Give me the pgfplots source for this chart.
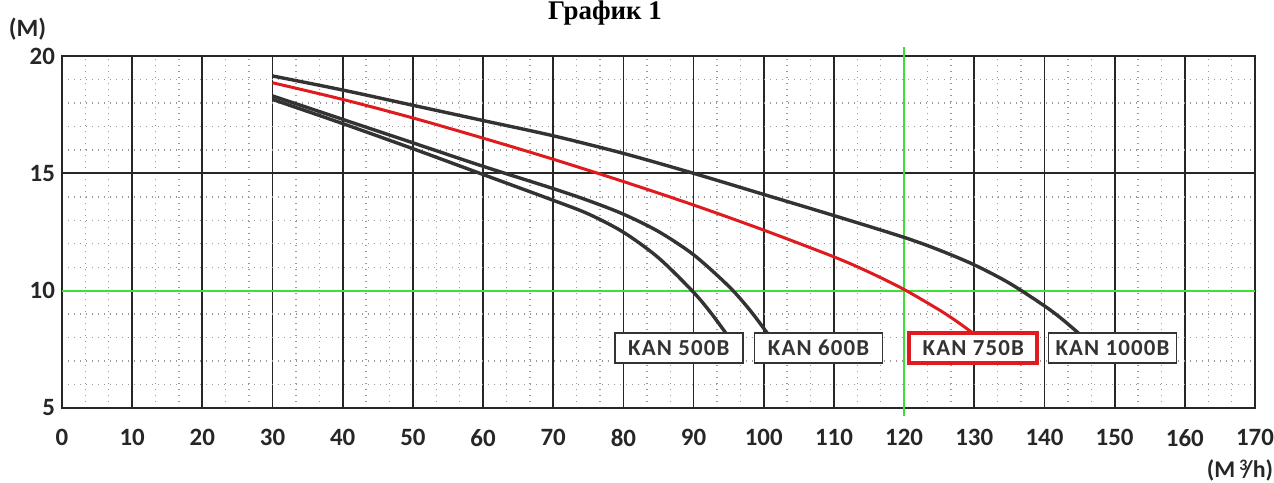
\documentclass[border=0pt]{standalone}
\usepackage{fontspec}
\setmainfont{Carlito}
\newfontfamily\boxfont[LetterSpace=5]{Carlito}
\newfontfamily\titlefont{Liberation Serif}
\usepackage{pgfplots}
\pgfplotsset{compat=1.18}

\definecolor{gridk}{HTML}{262626}
\definecolor{curvek}{HTML}{333333}
\definecolor{kanred}{HTML}{E01B1F}
\definecolor{kangreen}{HTML}{3FDF3A}

\begin{document}
\begin{tikzpicture}[x=1bp,y=1bp]
\begin{axis}[
    at={(0,0)}, anchor=south west,
    scale only axis,
    width=596.5bp, height=176bp,
    xmin=0, xmax=170, ymin=5, ymax=20,
    xtick={0,10,...,170},
    ytick={5,10,15,20},
    minor x tick num=2,
    minor y tick num=4,
    grid=both,
    major grid style={gridk, line width=0.9bp},
    minor grid style={gray!80, line width=0.7bp, dash pattern=on 0.7bp off 2.3bp},
    axis line style={gridk, line width=1.1bp},
    major tick length=0pt, minor tick length=0pt,
    tick label style={font=\bfseries\fontsize{12.5}{14}\selectfont, text=gridk},
    /pgf/number format/assume math mode=true,
    xticklabel style={yshift=-7bp},
    clip=false,
]
% green reference lines
\addplot[kangreen, line width=1bp] coordinates {(120,4.65) (120,20.4)};
\addplot[kangreen, line width=1bp] coordinates {(0,10) (170,10)};

% KAN 500B
\addplot[curvek, line width=1.7bp, smooth, tension=0.5] coordinates {
(30,18.15) (40,17.12) (50,16.05) (60,14.95) (70,13.85) (75,13.27) (80,12.49)
(85,11.40) (90,9.93) (92.5,9.04) (94.7,8.15)};
% KAN 600B
\addplot[curvek, line width=1.7bp, smooth, tension=0.5] coordinates {
(30,18.3) (40,17.3) (50,16.3) (60,15.3) (70,14.35) (75,13.84) (80,13.26)
(85,12.52) (90,11.53) (95,10.19) (98,9.18) (100.6,8.15)};
% KAN 750B
\addplot[kanred, line width=1.5bp, smooth, tension=0.5] coordinates {
(30,18.86) (40,18.15) (50,17.36) (60,16.5) (70,15.6) (80,14.65) (90,13.65)
(100,12.58) (110,11.44) (115,10.79) (120,10.05) (125,9.18) (127.5,8.69) (130,8.15)};
% KAN 1000B
\addplot[curvek, line width=1.7bp, smooth, tension=0.5] coordinates {
(30,19.15) (40,18.55) (50,17.9) (60,17.25) (70,16.6) (80,15.85) (90,15.0)
(100,14.1) (110,13.2) (120,12.27) (125,11.73) (130,11.1) (135,10.32)
(140,9.35) (142.5,8.79) (145,8.15)};

\tikzset{kanbox/.style={draw=curvek, line width=0.8bp, fill=white, text=curvek,
    minimum width=64bp, minimum height=15bp, inner sep=0pt,
    font=\boxfont\bfseries\fontsize{11.5}{12}\selectfont}}
\node[kanbox] at (axis cs:87.9,7.55) {KAN 500B};
\node[kanbox] at (axis cs:107.8,7.55) {KAN 600B};
\node[kanbox, draw=kanred, line width=2bp] at (axis cs:129.85,7.55) {KAN 750B};
\node[kanbox] at (axis cs:149.7,7.55) {KAN 1000B};
\end{axis}

\node[font=\bfseries\fontsize{12.5}{14}\selectfont, text=gridk] at (-17.25bp,189.5bp) {(M)};
\node[font=\bfseries\fontsize{12}{14}\selectfont, text=gridk] at (589bp,-31bp) {(M\,\raisebox{0.55ex}{\fontsize{8}{9}\selectfont 3}\kern-0.2em/h)};
\node[font=\titlefont\bfseries\fontsize{13.5}{15}\selectfont, anchor=base] at (271.5bp,194bp) {График 1};

\pgfresetboundingbox
\useasboundingbox (-31bp,-37.5bp) rectangle (606bp,204bp);
\end{tikzpicture}
\end{document}
